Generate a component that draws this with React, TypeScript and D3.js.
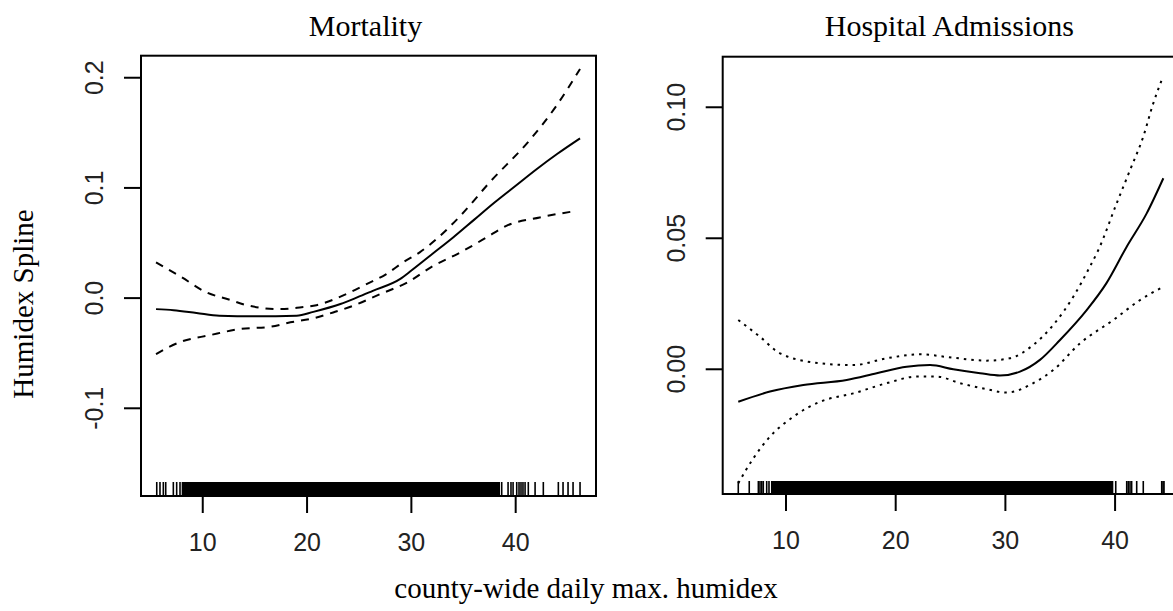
import React from "react";
import * as d3 from "d3";

// ---------- data ----------
const xTicks = [10, 20, 30, 40];
const mortYTicks = [-0.1, 0.0, 0.1, 0.2];
const mortYTickLabels = ["-0.1", "0.0", "0.1", "0.2"];
const hospYTicks = [0.0, 0.05, 0.1];
const hospYTickLabels = ["0.00", "0.05", "0.10"];

// Mortality spline (x = humidex, y = effect)
const mortFitX = [5.52, 7.2, 9.4, 11.6, 15, 19, 20.6, 23.2, 24.8, 26.3, 28.9, 30, 32, 34, 36, 38, 40, 42, 44, 46.17];
const mortFitY = [-0.01, -0.011, -0.0135, -0.016, -0.0165, -0.016, -0.0125, -0.0054, 0.0006, 0.0066, 0.0172, 0.025, 0.04, 0.055, 0.071, 0.087, 0.102, 0.117, 0.131, 0.145];
const mortUpX = [5.52, 7.8, 10.4, 12.6, 14.2, 17.4, 19.3, 20.9, 22.5, 24.1, 25.7, 27.6, 29.2, 30.8, 32.4, 34.7, 37.5, 41.4, 43.9, 46.17];
const mortUpY = [0.0324, 0.02, 0.005, -0.0015, -0.0064, -0.01, -0.0085, -0.0064, -0.0015, 0.0052, 0.0127, 0.0218, 0.0324, 0.0415, 0.0535, 0.0747, 0.105, 0.144, 0.1745, 0.208];
const mortLoX = [5.52, 7.8, 10.7, 13.6, 16.5, 18.4, 20.6, 22.5, 24.4, 27, 29.6, 32.1, 34.4, 37.2, 39.1, 42.3, 45.85];
const mortLoY = [-0.0508, -0.04, -0.0336, -0.028, -0.026, -0.022, -0.0184, -0.013, -0.007, 0.0036, 0.0142, 0.0293, 0.04, 0.055, 0.0656, 0.0732, 0.0792];

// Hospital admissions spline
const hospFitX = [5.65, 8.54, 11.58, 15.53, 18.27, 21.0, 23.13, 25.25, 27.7, 29.5, 31.33, 33.15, 34.98, 37.41, 39.2, 41.06, 42.88, 44.4];
const hospFitY = [-0.0124, -0.0085, -0.006, -0.0041, -0.0015, 0.001, 0.0016, 0.0, -0.0015, -0.0024, -0.0009, 0.0036, 0.0112, 0.0226, 0.0328, 0.0468, 0.0595, 0.0729];
const hospUpX = [5.65, 7.63, 9.45, 13.1, 16.14, 19.18, 22.2, 25.25, 28.3, 30.4, 32.54, 34.36, 36.19, 37.71, 38.47, 40.15, 41.36, 42.57, 43.48, 44.25];
const hospUpY = [0.0188, 0.0124, 0.0061, 0.0023, 0.0016, 0.0042, 0.0057, 0.0044, 0.0033, 0.0042, 0.0093, 0.0169, 0.0277, 0.0392, 0.0455, 0.0634, 0.076, 0.0888, 0.1015, 0.1104];
const hospLoX = [5.65, 7.02, 8.54, 10.67, 13.1, 16.14, 19.18, 21.92, 23.74, 25.86, 28.3, 30.12, 32.54, 34.36, 36.8, 39.84, 42.27, 44.4];
const hospLoY = [-0.0435, -0.034, -0.0257, -0.0181, -0.0124, -0.0092, -0.0053, -0.0028, -0.0028, -0.0053, -0.0076, -0.0089, -0.0053, -0.0003, 0.0099, 0.0188, 0.0264, 0.0315];

// Rug: isolated observations and the densely covered range
const mortRugSparse = [5.59, 5.9, 6.22, 6.45, 7.18, 7.5, 7.82, 38.66, 39.27, 39.55, 39.75, 40.1, 40.32, 40.51, 40.7, 40.9, 41.21, 41.86, 42.65, 44.09, 44.54, 45.02, 45.5, 46.17];
const mortRugDense = [7.98, 38.5];
const hospRugSparse = [5.65, 6.65, 7.48, 7.63, 7.79, 7.93, 8.24, 8.45, 40.06, 41.06, 41.2, 41.36, 41.51, 41.97, 42.57, 44.25, 44.37, 44.46];
const hospRugDense = [8.63, 39.84];

const W = 1173;
const H = 611;
const SERIF = "'Liberation Serif', 'Times New Roman', serif";
const SANS = "'Liberation Sans', Arial, sans-serif";

type PanelProps = {
  left: number;
  right: number;
  top: number;
  bottom: number;
  xDomain: [number, number];
  yDomain: [number, number];
  yTicks: number[];
  yTickLabels: string[];
  title: string;
  fit: [number[], number[]];
  up: [number[], number[]];
  lo: [number[], number[]];
  bandDash: string;
  rugSparse: number[];
  rugDense: number[];
  rugLen: number;
};

function Panel(p: PanelProps) {
  const x = d3.scaleLinear().domain(p.xDomain).range([p.left, p.right]);
  const y = d3.scaleLinear().domain(p.yDomain).range([p.bottom, p.top]);
  const line = d3
    .line<[number, number]>()
    .x((d) => x(d[0]))
    .y((d) => y(d[1]))
    .curve(d3.curveMonotoneX);
  const pts = (s: [number[], number[]]) => s[0].map((v, i) => [v, s[1][i]] as [number, number]);
  const tickLen = 17;
  return (
    <g>
      <text x={(p.left + p.right) / 2 - 3} y={36} fontFamily={SERIF} fontSize={30} textAnchor="middle">
        {p.title}
      </text>
      {/* rug */}
      <rect
        x={x(p.rugDense[0])}
        y={p.bottom - p.rugLen}
        width={x(p.rugDense[1]) - x(p.rugDense[0])}
        height={p.rugLen}
        fill="#000"
      />
      {p.rugSparse.map((v, i) => (
        <line key={i} x1={x(v)} x2={x(v)} y1={p.bottom} y2={p.bottom - p.rugLen} stroke="#000" strokeWidth={1.6} />
      ))}
      {/* curves */}
      <path d={line(pts(p.fit)) || ""} fill="none" stroke="#000" strokeWidth={2} />
      <path d={line(pts(p.up)) || ""} fill="none" stroke="#000" strokeWidth={2} strokeDasharray={p.bandDash} />
      <path d={line(pts(p.lo)) || ""} fill="none" stroke="#000" strokeWidth={2} strokeDasharray={p.bandDash} />
      {/* box */}
      <rect x={p.left} y={p.top} width={p.right - p.left} height={p.bottom - p.top} fill="none" stroke="#000" strokeWidth={2} />
      {/* x axis */}
      {xTicks.map((t) => (
        <g key={"x" + t}>
          <line x1={x(t)} x2={x(t)} y1={p.bottom} y2={p.bottom + tickLen} stroke="#000" strokeWidth={2} />
          <text x={x(t)} y={p.bottom + 55} fontFamily={SANS} fontSize={25} textAnchor="middle" fill="#222">
            {t}
          </text>
        </g>
      ))}
      {/* y axis */}
      {p.yTicks.map((t, i) => (
        <g key={"y" + t}>
          <line x1={p.left - tickLen} x2={p.left} y1={y(t)} y2={y(t)} stroke="#000" strokeWidth={2} />
          <text
            transform={`translate(${p.left - 38},${y(t)}) rotate(-90)`}
            fontFamily={SANS}
            fontSize={25}
            textAnchor="middle"
            fill="#222"
          >
            {p.yTickLabels[i]}
          </text>
        </g>
      ))}
    </g>
  );
}

export default function App() {
  return (
    <svg
      width={W}
      height={H}
      viewBox={`0 0 ${W} ${H}`}
      style={{ position: "absolute", left: 0, top: 0, background: "#fff" }}
    >
      <rect x={0} y={0} width={W} height={H} fill="#fff" />
      <Panel
        left={141}
        right={596}
        top={55.7}
        bottom={496}
        xDomain={[4.08, 47.7]}
        yDomain={[-0.1796, 0.22]}
        yTicks={mortYTicks}
        yTickLabels={mortYTickLabels}
        title="Mortality"
        fit={[mortFitX, mortFitY]}
        up={[mortUpX, mortUpY]}
        lo={[mortLoX, mortLoY]}
        bandDash="8,7"
        rugSparse={mortRugSparse}
        rugDense={mortRugDense}
        rugLen={14}
      />
      <Panel
        left={722.7}
        right={1182}
        top={56.7}
        bottom={494}
        xDomain={[4.23, 46.1]}
        yDomain={[-0.0476, 0.1193]}
        yTicks={hospYTicks}
        yTickLabels={hospYTickLabels}
        title="Hospital Admissions"
        fit={[hospFitX, hospFitY]}
        up={[hospUpX, hospUpY]}
        lo={[hospLoX, hospLoY]}
        bandDash="2.5,5"
        rugSparse={hospRugSparse}
        rugDense={hospRugDense}
        rugLen={13}
      />
      <text
        transform={`translate(33,304) rotate(-90)`}
        fontFamily={SERIF}
        fontSize={29}
        textAnchor="middle"
      >
        Humidex Spline
      </text>
      <text x={586} y={598} fontFamily={SERIF} fontSize={29} textAnchor="middle">
        county-wide daily max. humidex
      </text>
    </svg>
  );
}
